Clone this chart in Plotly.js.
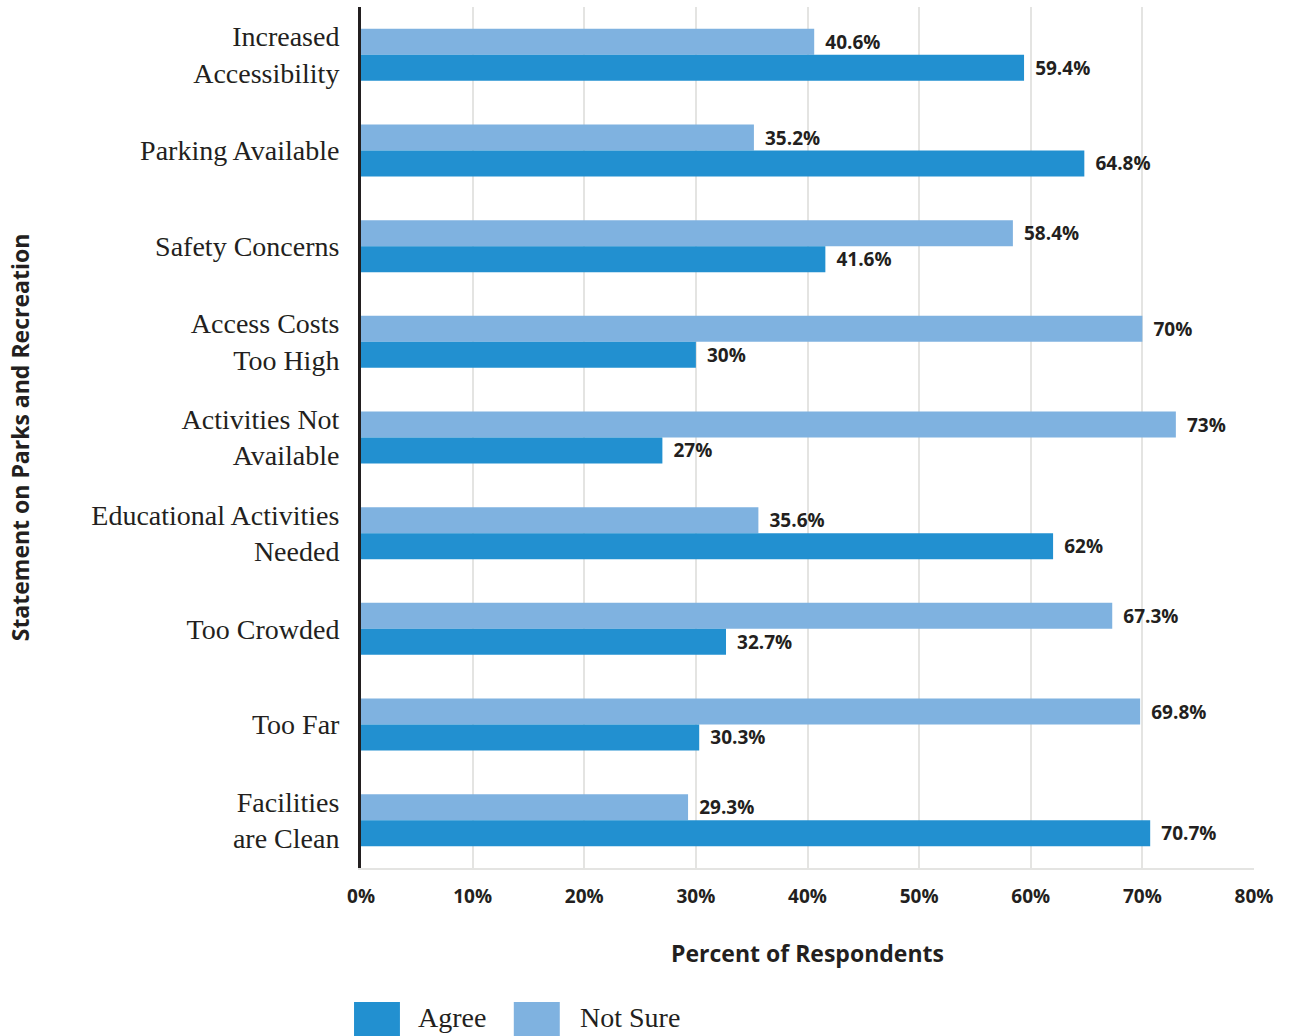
<!DOCTYPE html>
<html>
<head>
<meta charset="utf-8">
<script src="https://cdn.plot.ly/plotly-3.0.1.min.js"></script>
<style>html,body{margin:0;padding:0;background:#fff;}#chart{width:1289px;height:1036px;}</style>
</head>
<body>
<div id="chart"></div>
<script>
const categories = ["Increased Accessibility","Parking Available","Safety Concerns","Access Costs Too High","Activities Not Available","Educational Activities Needed","Too Crowded","Too Far","Facilities are Clean"];
const categoryLabels = ["Increased<br>Accessibility","Parking Available","Safety Concerns","Access Costs<br>Too High","Activities Not<br>Available","Educational Activities<br>Needed","Too Crowded","Too Far","Facilities<br>are Clean"];
const agree = [59.4, 64.8, 41.6, 30, 27, 62, 32.7, 30.3, 70.7];
const notSure = [40.6, 35.2, 58.4, 70, 73, 35.6, 67.3, 69.8, 29.3];
const seriesNames = ["Agree", "Not Sure"];
const xTickVals = [0,10,20,30,40,50,60,70,80];
const xTickText = xTickVals.map(v => v + "%");

const cAgree = "#2290d0";
const cNotSure = "#7fb2e0";
const ink = "#231f20";
const sans = "Open Sans";
const serif = "Liberation Serif";

const lbl = v => "\u00a0\u2009" + v + "%";

const traces = [
  {type:"bar", orientation:"h", name:seriesNames[1], y:categories, x:notSure,
   marker:{color:cNotSure}, text:notSure.map(lbl), textposition:"outside",
   constraintext:"none", cliponaxis:false,
   textfont:{family:sans, size:19, color:ink, weight:700}, hoverinfo:"x+y"},
  {type:"bar", orientation:"h", name:seriesNames[0], y:categories, x:agree,
   marker:{color:cAgree}, text:agree.map(lbl), textposition:"outside",
   constraintext:"none", cliponaxis:false,
   textfont:{family:sans, size:19, color:ink, weight:700}, hoverinfo:"x+y"}
];

const layout = {
  width:1289, height:1036,
  margin:{l:361, r:35, t:7, b:168},
  paper_bgcolor:"#fff", plot_bgcolor:"#fff",
  barmode:"group", bargap:0.457, bargroupgap:0,
  showlegend:false,
  xaxis:{range:[0,80], tickvals:xTickVals, ticktext:xTickText,
    showgrid:true, gridcolor:"#e4e4e2", gridwidth:2, zeroline:false,
    showline:true, linecolor:"#e4e4e2", linewidth:2,
    ticks:"outside", ticklen:10, tickcolor:"rgba(0,0,0,0)",
    tickfont:{family:sans, size:19, color:ink, weight:700},
    title:{text:"Percent of Respondents", font:{family:sans, size:23, color:ink, weight:700}, standoff:38},
    fixedrange:true},
  yaxis:{type:"category", categoryarray:categories, autorange:"reversed",
    tickvals:categories, ticktext:categoryLabels,
    showgrid:false, zeroline:false,
    showline:true, linecolor:ink, linewidth:3,
    ticks:"outside", ticklen:13, tickcolor:"rgba(0,0,0,0)",
    tickfont:{family:serif, size:28, color:ink},
    title:{text:"Statement on Parks and Recreation", font:{family:sans, size:23, color:ink, weight:700}, standoff:56},
    fixedrange:true},
  shapes:[
    {type:"rect", xref:"paper", yref:"paper", x0:-0.0078, x1:0.0436, y0:-0.1556, y1:-0.2, fillcolor:cAgree, line:{width:0}},
    {type:"rect", xref:"paper", yref:"paper", x0:0.1711, x1:0.2226, y0:-0.1556, y1:-0.2, fillcolor:cNotSure, line:{width:0}}
  ],
  annotations:[
    {xref:"paper", yref:"paper", x:0.0615, y:-0.1742, xanchor:"left", yanchor:"middle", showarrow:false,
     text:seriesNames[0], font:{family:serif, size:28, color:ink}},
    {xref:"paper", yref:"paper", x:0.2433, y:-0.1742, xanchor:"left", yanchor:"middle", showarrow:false,
     text:seriesNames[1], font:{family:serif, size:28, color:ink}}
  ]
};

Plotly.newPlot("chart", traces, layout, {displayModeBar:false, staticPlot:true});
</script>
</body>
</html>
